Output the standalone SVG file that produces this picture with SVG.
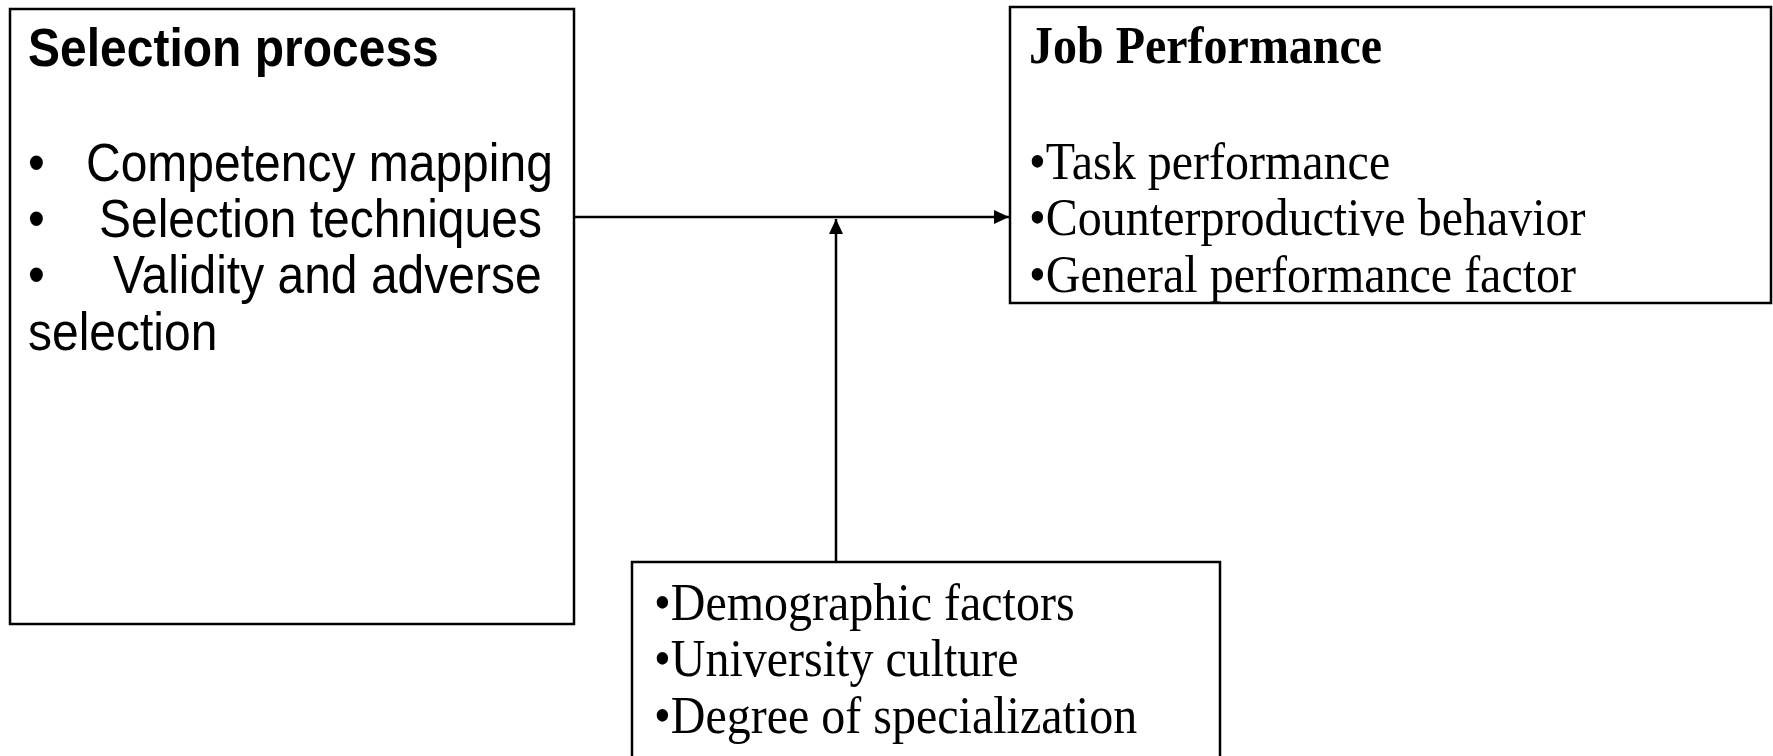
<svg xmlns="http://www.w3.org/2000/svg" width="1773" height="756" viewBox="0 0 1773 756">
  <style>
    .box { fill: #ffffff; stroke: #000000; stroke-width: 2.5; }
    .sans { font-family: "Liberation Sans", Arial, sans-serif; font-size: 48px; fill: #000000; }
    .serif { font-family: "Liberation Serif", "Times New Roman", serif; font-size: 48px; fill: #000000; }
    .bold { font-weight: bold; }
    .link { stroke: #000000; stroke-width: 2.5; fill: none; }
  </style>
  <defs>
    <marker id="arrow" markerWidth="16" markerHeight="16" refX="15" refY="8" orient="auto" markerUnits="userSpaceOnUse">
      <path d="M0,1 L15,8 L0,15 Z" fill="#000000"/>
    </marker>
  </defs>
  <rect width="1773" height="756" fill="#ffffff"/>

  <!-- Selection process (text stretched 1.12 vertically about each baseline) -->
  <g id="selection-process">
    <rect class="box" x="10" y="9" width="564" height="615"/>
    <text class="sans bold" x="28" y="66" transform="matrix(1 0 0 1.12 0 -7.92)">Selection process</text>
    <text class="sans" x="28" y="181" transform="matrix(1 0 0 1.12 0 -21.72)">•</text>
    <text class="sans" x="86" y="181" transform="matrix(1 0 0 1.12 0 -21.72)">Competency mapping</text>
    <text class="sans" x="28" y="237" transform="matrix(1 0 0 1.12 0 -28.44)">•</text>
    <text class="sans" x="99" y="237" transform="matrix(1 0 0 1.12 0 -28.44)">Selection techniques</text>
    <text class="sans" x="28" y="293" transform="matrix(1 0 0 1.12 0 -35.16)">•</text>
    <text class="sans" x="113" y="293" transform="matrix(1 0 0 1.12 0 -35.16)">Validity and adverse</text>
    <text class="sans" x="28" y="350" transform="matrix(1 0 0 1.12 0 -42)">selection</text>
  </g>

  <!-- Job Performance -->
  <g id="job-performance">
    <rect class="box" x="1010" y="7" width="761" height="296"/>
    <text class="serif bold" x="1029" y="63" transform="matrix(1 0 0 1.12 0 -7.56)">Job Performance</text>
    <text class="serif" x="1029" y="179" transform="matrix(1 0 0 1.12 0 -21.48)">•Task performance</text>
    <text class="serif" x="1029" y="235" transform="matrix(1 0 0 1.12 0 -28.2)">•Counterproductive behavior</text>
    <text class="serif" x="1029" y="292" transform="matrix(1 0 0 1.12 0 -35.04)">•General performance factor</text>
  </g>

  <!-- Moderating factors -->
  <g id="moderators">
    <rect class="box" x="632" y="562" width="588" height="200"/>
    <text class="serif" x="654" y="620" transform="matrix(1 0 0 1.12 0 -74.4)">•Demographic factors</text>
    <text class="serif" x="654" y="676" transform="matrix(1 0 0 1.12 0 -81.12)">•University culture</text>
    <text class="serif" x="654" y="733" transform="matrix(1 0 0 1.12 0 -87.96)">•Degree of specialization</text>
  </g>

  <!-- Connectors -->
  <g id="connectors">
    <line class="link" x1="574" y1="217" x2="1009" y2="217" marker-end="url(#arrow)"/>
    <line class="link" x1="836" y1="562" x2="836" y2="219" marker-end="url(#arrow)"/>
  </g>
</svg>
